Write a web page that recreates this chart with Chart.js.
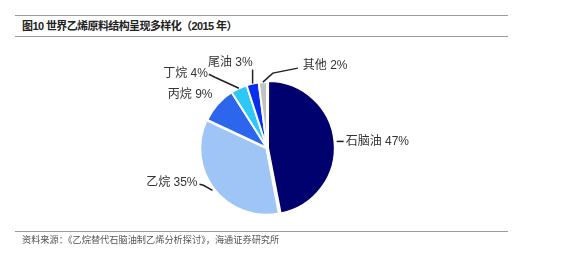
<!DOCTYPE html>
<html lang="zh">
<head>
<meta charset="utf-8">
<title>世界乙烯原料结构</title>
<script src="https://cdn.jsdelivr.net/npm/chart.js@4.4.1/dist/chart.umd.min.js"></script>
<style>
    html, body { margin: 0; padding: 0; background: #fff; }
    #wrap { position: relative; width: 574px; height: 253px; overflow: hidden;
            font-family: "Liberation Sans", "Noto Sans CJK SC", sans-serif; }
    .rule { position: absolute; left: 15px; width: 493px; height: 0; border-top: 1.5px solid #9a9a9a; }
    #title { position: absolute; left: 22px; top: 18px; font-size: 11px; font-weight: bold;
             letter-spacing: -0.6px; color: #222; line-height: 16px; white-space: nowrap; }
    #source { position: absolute; left: 22px; top: 234px; font-size: 9.2px; color: #555;
              line-height: 12px; white-space: nowrap; }
    #chart { position: absolute; left: 0; top: 0; }
</style>
</head>
<body>
<div id="wrap">
    <div class="rule" style="top:15px"></div>
    <div id="title">图10 世界乙烯原料结构呈现多样化（2015 年）</div>
    <div class="rule" style="top:36px"></div>
    <canvas id="chart" width="574" height="253"></canvas>
    <div class="rule" style="top:231px"></div>
    <div id="source">资料来源：《乙烷替代石脑油制乙烯分析探讨》，海通证券研究所</div>
</div>
<script>
// Données du graphique
const categories = ['石脑油', '乙烷', '丙烷', '丁烷', '尾油', '其他'];
const shares = [47, 35, 9, 4, 3, 2];
const sliceColors = ['#00006e', '#9fc4f6', '#2c66ec', '#2ec8f8', '#0630ee', '#c2c2c2'];

// Étiquettes avec traits de rappel (positions relatives au bord de la part)
const labelLayout = [
    { dx: 9,   dy: 0,   align: 'left',  lead: [[7, 0]] },
    { dx: -15, dy: -8,  align: 'right', lead: [[-9, -5], [-13, -6]] },
    { dx: -5,  dy: -10, align: 'right', lead: [] },
    { dx: -31, dy: -15, align: 'right', lead: [[-24, -11], [-30, -14]] },
    { dx: 0,   dy: -21, align: 'right', lead: [[0, -14]] },
    { dx: 40,  dy: -16, align: 'left',  lead: [[10, -9], [35, -14]] }
];

const pieLabels = {
    id: 'pieLabels',
    afterDatasetsDraw(chart) {
        const ctx = chart.ctx;
        const ds = chart.data.datasets[0];
        const meta = chart.getDatasetMeta(0);
        ctx.save();
        ctx.font = '12px "Liberation Sans", "Noto Sans CJK SC", sans-serif';
        ctx.fillStyle = '#333';
        ctx.strokeStyle = '#222';
        ctx.lineWidth = 1.5;
        ctx.textBaseline = 'middle';
        meta.data.forEach((arc, i) => {
            const p = arc.getProps(['x', 'y', 'startAngle', 'endAngle', 'outerRadius'], true);
            const mid = (p.startAngle + p.endAngle) / 2;
            const r = p.outerRadius + (ds.offset[i] || 0);
            const ex = p.x + Math.cos(mid) * r;
            const ey = p.y + Math.sin(mid) * r;
            const lay = labelLayout[i];
            if (lay.lead.length) {
                ctx.beginPath();
                ctx.moveTo(ex, ey);
                lay.lead.forEach(pt => ctx.lineTo(ex + pt[0], ey + pt[1]));
                ctx.stroke();
            }
            ctx.textAlign = lay.align;
            ctx.fillText(categories[i] + ' ' + shares[i] + '%', ex + lay.dx, ey + lay.dy);
        });
        ctx.restore();
    }
};

document.addEventListener('DOMContentLoaded', function() {
    const ctx = document.getElementById('chart');
    new Chart(ctx, {
        type: 'pie',
        data: {
            labels: categories,
            datasets: [{
                data: shares,
                backgroundColor: sliceColors,
                borderColor: '#fff',
                borderWidth: 2,
                offset: [4, 3, 0, 0, 0, 0],
                radius: 66
            }]
        },
        options: {
            responsive: false,
            animation: false,
            layout: { padding: { left: 187, right: 227, top: 68, bottom: 25 } },
            plugins: {
                legend: { display: false },
                tooltip: { enabled: false },
                title: { display: false }
            }
        },
        plugins: [pieLabels]
    });
});
</script>
</body>
</html>
